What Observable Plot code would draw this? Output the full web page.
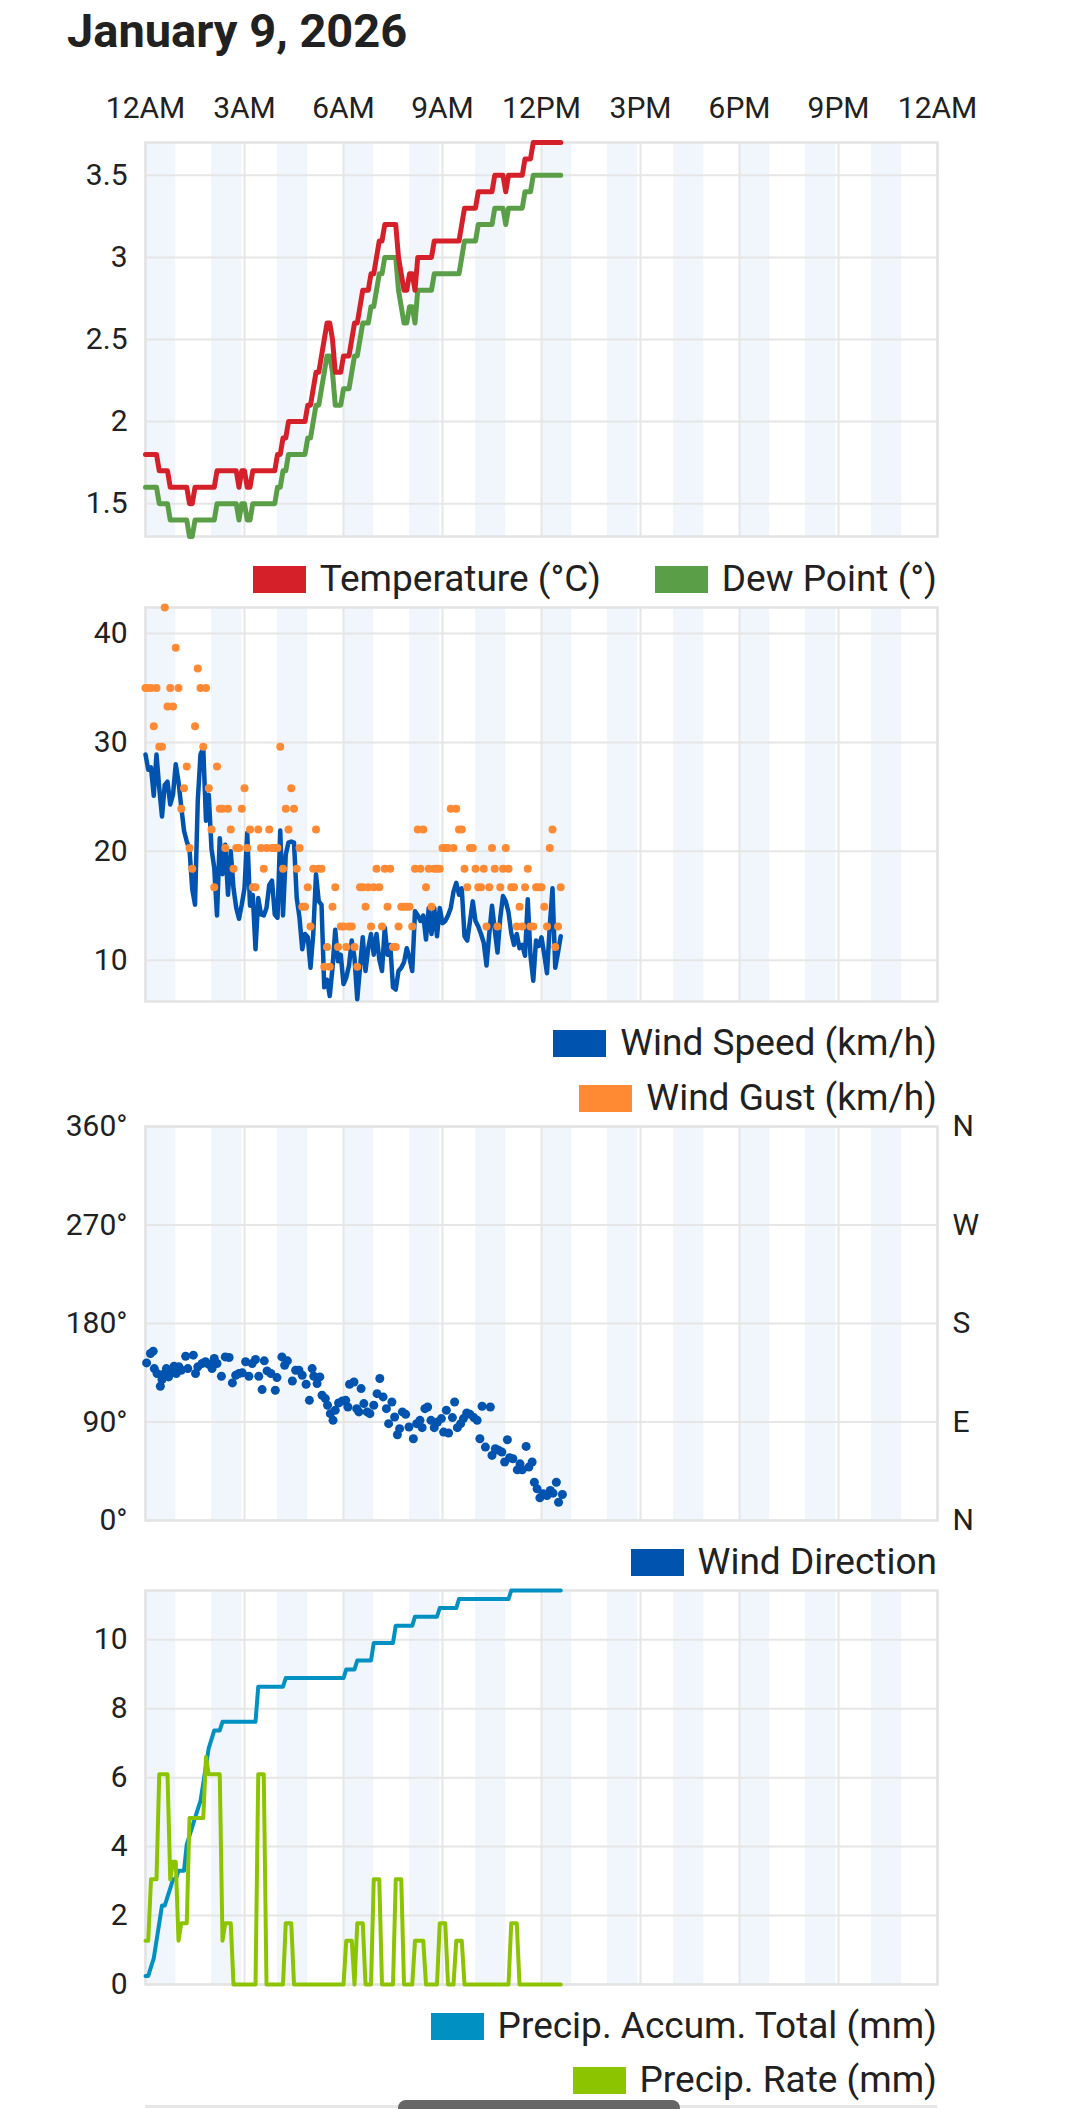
<!DOCTYPE html>
<html><head><meta charset="utf-8">
<script src="https://cdn.jsdelivr.net/npm/d3@7"></script>
<script src="https://cdn.jsdelivr.net/npm/@observablehq/plot@0.6"></script>
<style>
html,body{margin:0;padding:0;background:#fff;}
#page{position:relative;width:1080px;height:2109px;overflow:hidden;font-family:Roboto,sans-serif;color:#212121;}
.title{position:absolute;left:67px;top:7px;font-size:47px;font-weight:700;line-height:47px;white-space:nowrap;}
.legend{position:absolute;right:143px;display:flex;align-items:center;height:44px;line-height:44px;font-size:37px;white-space:nowrap;}
.item{display:flex;align-items:center;}
.item + .item{margin-left:54px;}
.sw{width:53px;height:27px;margin-right:14px;}
.scroll{position:absolute;left:398px;top:2100px;width:282px;height:16px;border-radius:8px;background:#666;}
.nextline{position:absolute;left:145px;top:2105px;width:792px;height:3px;background:#e6e6e6;}
</style></head>
<body><div id="page"></div>
<script>
// ---------- data (5-minute samples starting 12:00 AM) ----------
const stepMinutes = 5;
const xTicks = [0, 3, 6, 9, 12, 15, 18, 21, 24];
const xTickLabels = ["12AM", "3AM", "6AM", "9AM", "12PM", "3PM", "6PM", "9PM", "12AM"];
const stripeStarts = [0, 2, 4, 6, 8, 10, 12, 14, 16, 18, 20, 22];

const temperature = [1.8,1.8,1.8,1.8,1.8, 1.7,1.7,1.7,1.7, 1.6,1.6,1.6,1.6,1.6,1.6,1.6, 1.5,1.5,
  1.6,1.6,1.6,1.6,1.6,1.6,1.6,1.6, 1.7,1.7,1.7,1.7,1.7,1.7,1.7,1.7, 1.6, 1.7,1.7, 1.6,1.6,
  1.7,1.7,1.7,1.7,1.7,1.7,1.7,1.7,1.7, 1.8,1.8, 1.9,1.9, 2.0,2.0,2.0,2.0,2.0,2.0,2.0, 2.1,2.1,
  2.2, 2.3,2.3, 2.4, 2.5, 2.6,2.6, 2.5, 2.3,2.3,2.3, 2.4,2.4,2.4, 2.5, 2.6,2.6, 2.7, 2.8,2.8,2.8,
  2.9,2.9, 3.0, 3.1,3.1, 3.2,3.2,3.2,3.2,3.2, 3.0, 2.9, 2.8,2.8, 2.9,2.9, 2.8, 3.0,3.0,3.0,3.0,3.0,3.0,
  3.1,3.1,3.1,3.1,3.1,3.1,3.1,3.1,3.1,3.1, 3.2, 3.3,3.3,3.3,3.3,3.3, 3.4,3.4,3.4,3.4,3.4,3.4,
  3.5,3.5,3.5,3.5, 3.4, 3.5,3.5,3.5,3.5,3.5,3.5, 3.6,3.6,3.6, 3.7,3.7,3.7,3.7,3.7,3.7,3.7,3.7,3.7,3.7,3.7];

const dewPoint = [1.6,1.6,1.6,1.6,1.6, 1.5,1.5,1.5,1.5, 1.4,1.4,1.4,1.4,1.4,1.4,1.4, 1.3,1.3,
  1.4,1.4,1.4,1.4,1.4,1.4,1.4,1.4, 1.5,1.5,1.5,1.5,1.5,1.5,1.5,1.5, 1.4, 1.5,1.5, 1.4,1.4,
  1.5,1.5,1.5,1.5,1.5,1.5,1.5,1.5,1.5, 1.6,1.6, 1.7,1.7, 1.8,1.8,1.8,1.8,1.8,1.8,1.8, 1.9,1.9,
  2.0, 2.1,2.1, 2.2, 2.3, 2.4,2.4, 2.3, 2.1,2.1,2.1, 2.2,2.2,2.2, 2.3, 2.4,2.4, 2.5, 2.6,2.6,2.6,
  2.7,2.7, 2.8, 2.9,2.9, 3.0,3.0,3.0,3.0,3.0, 2.8, 2.7, 2.6,2.6, 2.7,2.7, 2.6, 2.8,2.8,2.8,2.8,2.8,2.8,
  2.9,2.9,2.9,2.9,2.9,2.9,2.9,2.9,2.9,2.9, 3.0, 3.1,3.1,3.1,3.1,3.1, 3.2,3.2,3.2,3.2,3.2,3.2,
  3.3,3.3,3.3,3.3, 3.2, 3.3,3.3,3.3,3.3,3.3,3.3, 3.4,3.4,3.4, 3.5,3.5,3.5,3.5,3.5,3.5,3.5,3.5,3.5,3.5,3.5];

const windSpeed = [28.9,27.5,27.7,25.1,28.9,25.8,23.2,26.1,26.4,24.3,
  25.2,28.0,26.4,24.1,21.9,20.9,20.2,16.5,15.1,24.6,
  28.9,29.5,22.8,25.2,20.2,18.5,14.1,21.2,17.9,20.6,
  16.0,20.0,16.6,14.8,13.8,15.1,16.6,21.7,15.0,16.0,
  11.0,15.7,14.2,14.1,14.8,16.9,17.3,14.2,13.9,21.9,
  14.1,19.7,20.8,20.9,20.8,15.7,13.9,11.0,12.4,12.1,
  9.3,12.4,17.9,15.4,15.1,7.5,8.2,6.7,9.3,12.8,
  9.9,10.5,7.8,8.4,9.5,11.8,10.2,6.4,9.3,12.1,
  9.0,11.1,12.4,10.5,12.4,10.1,9.0,13.0,10.5,11.4,
  7.5,7.3,9.0,9.3,9.8,11.1,10.2,9.0,14.5,14.1,
  13.6,14.1,11.9,14.8,12.4,14.8,12.2,14.8,13.4,13.6,
  14.1,14.8,16.3,17.1,16.0,16.6,12.2,11.8,13.6,15.4,
  13.6,13.1,12.4,11.6,9.5,12.4,15.0,12.8,10.7,13.9,
  15.9,15.4,14.4,12.5,11.4,12.4,11.1,11.4,10.4,15.6,
  10.4,8.1,11.8,11.3,12.1,10.5,8.8,13.1,16.6,9.3,
  10.7,12.2];

const windGust = [35.0,35.0,35.0,31.5,35.0,29.6,29.6,42.4,33.3,35.0,
  33.3,38.7,35.0,23.9,25.8,27.8,20.3,18.4,31.5,36.8,
  35.0,29.6,35.0,25.8,22.0,16.7,27.8,23.9,23.9,20.3,
  23.9,22.0,18.4,20.3,20.3,23.9,25.8,20.3,22.0,16.7,
  16.7,22.0,20.3,18.4,20.3,22.0,20.3,20.3,20.3,29.6,
  18.4,23.9,22.0,25.8,23.9,18.4,20.3,14.9,14.9,16.7,
  13.1,18.4,22.0,18.4,18.4,9.4,11.2,9.4,14.9,16.7,
  11.2,13.1,13.1,11.2,13.1,13.1,11.2,9.4,16.7,16.7,
  14.9,16.7,13.1,16.7,18.4,16.7,13.1,18.4,14.9,18.4,
  11.2,11.2,13.1,14.9,14.9,14.9,14.9,13.1,18.4,22.0,
  18.4,22.0,16.7,18.4,14.9,18.4,18.4,18.4,20.3,20.3,
  20.3,23.9,20.3,23.9,22.0,22.0,18.4,16.7,20.3,20.3,
  18.4,16.7,16.7,18.4,13.1,16.7,20.3,18.4,13.1,16.7,
  18.4,20.3,18.4,16.7,16.7,13.1,14.9,13.1,16.7,18.4,
  13.1,13.1,16.7,16.7,16.7,14.9,13.1,20.3,22.0,11.2,
  13.1,16.7];

const dirMinutes = [2,9,14,16,21,27,30,35,38,42, 47,52,56,61,65,73,77,87,91,95,
  103,109,115,121,125,130,138,145,152,158, 164,170,176,182,188,194,200,206,212,216,
  221,228,236,239,248,253,258,267,273,279, 285,292,298,303,306,312,317,321,327,331,
  336,341,345,351,358,364,368,371,379,384, 388,392,397,403,408,415,421,426,432,438,
  442,448,453,458,462,467,473,479,487,493, 499,503,508,513,519,525,531,538,542,547,
  551,558,562,567,573,578,584,590,597,603, 608,612,618,627,630,636,642,648,653,658,
  662,668,676,681,685,692,697,703,707,712, 717,723,730,736,741,747,751,758];
const windDirection = [144.0,152.6,154.7,138.8,134.3,122.7,128.8,134.3,138.8,131.2,
  135.8,141.0,134.3,140.4,137.3,150.1,138.8,151.1,134.3,140.4,
  143.4,145.0,142.8,138.8,148.0,143.4,131.8,149.5,148.9,125.7,
  132.7,134.3,134.9,145.0,131.8,143.4,147.1,131.8,119.6,145.9,
  136.7,134.3,119.0,130.6,149.5,141.9,145.9,127.5,137.3,137.3,
  132.7,124.5,109.8,138.8,131.8,125.1,131.2,114.4,111.4,105.3,
  97.6,91.5,100.7,107.4,109.2,109.8,103.7,124.5,126.6,102.2,
  99.2,120.5,106.8,99.2,97.6,105.3,115.9,129.7,112.9,102.2,
  88.5,108.3,94.6,78.4,83.9,99.2,97.0,85.4,74.7,88.5,
  91.5,84.8,102.2,103.7,91.5,84.8,90.0,93.1,80.8,100.7,
  79.9,94.0,108.3,84.8,88.5,93.1,98.2,97.0,94.0,91.5,
  74.7,104.4,67.1,103.7,59.5,65.6,64.1,62.5,53.4,73.8,
  57.3,56.4,46.3,51.8,46.3,67.7,48.8,53.4,35.0,28.9,
  20.7,24.4,22.8,27.4,25.0,35.0,16.7,23.8];

const precipAccum = [0.25,0.25,0.51,0.76,1.27,1.78,2.29,2.29,2.54,2.79,
  3.05,3.05,3.30,3.30,3.30,4.06,4.32,4.57,4.83,5.08,
  5.33,5.84,6.35,6.86,7.11,7.37,7.37,7.37,
  7.62,7.62,7.62,7.62,7.62,7.62,7.62,7.62,7.62,7.62,7.62,7.62,7.62,
  8.64,8.64,8.64,8.64,8.64,8.64,8.64,8.64,8.64,8.64,
  8.89,8.89,8.89,8.89,8.89,8.89,8.89,8.89,8.89,8.89,8.89,8.89,8.89,8.89,8.89,8.89,8.89,8.89,8.89,8.89,8.89,8.89,
  9.14,9.14,9.14,9.14,
  9.40,9.40,9.40,9.40,9.40,9.40,
  9.91,9.91,9.91,9.91,9.91,9.91,9.91,9.91,
  10.41,10.41,10.41,10.41,10.41,10.41,10.41,
  10.67,10.67,10.67,10.67,10.67,10.67,10.67,10.67,10.67,
  10.92,10.92,10.92,10.92,10.92,10.92,10.92,
  11.18,11.18,11.18,11.18,11.18,11.18,11.18,11.18,11.18,11.18,11.18,11.18,11.18,11.18,11.18,11.18,11.18,11.18,11.18,
  11.43,11.43,11.43,11.43,11.43,11.43,11.43,11.43,11.43,11.43,11.43,11.43,11.43,11.43,11.43,11.43,11.43,11.43,11.43];

const precipRate = [1.27,1.27,3.05,3.05,3.05,6.1,6.1,6.1,6.1,3.05,
  3.56,3.56,1.27,1.78,1.78,1.78,4.83,4.83,4.83,4.83,
  4.83,4.83,6.6,6.1,6.1,6.1,6.1,6.1,1.27,1.78,
  1.78,1.78,0,0,0,0,0,0,0,0,
  0,6.1,6.1,6.1,0,0,0,0,0,0,
  0,1.78,1.78,1.78,0,0,0,0,0,0,
  0,0,0,0,0,0,0,0,0,0,
  0,0,0,1.27,1.27,1.27,0,1.78,1.78,1.78,
  0,0,0,3.05,3.05,3.05,0,0,0,0,
  0,3.05,3.05,3.05,0,0,0,0,1.27,1.27,
  1.27,1.27,0,0,0,0,0,1.78,1.78,1.78,
  0,0,0,1.27,1.27,1.27,0,0,0,0,
  0,0,0,0,0,0,0,0,0,0,
  0,0,0,1.78,1.78,1.78,0,0,0,0,
  0,0,0,0,0,0,0,0,0,0,
  0,0];

const tempTicks = [1.5, 2, 2.5, 3, 3.5];
const windTicks = [10, 20, 30, 40];
const dirTicks = [0, 90, 180, 270, 360];
const dirTickLabels = ["0°", "90°", "180°", "270°", "360°"];
const compassLabels = ["N", "E", "S", "W", "N"];
const precipTicks = [0, 2, 4, 6, 8, 10];

// ---------- colours ----------
const C = {
  stripe: "#f0f6fb", grid: "#e6e6e6", frame: "#e3e3e3",
  temp: "#d62029", dew: "#5a9f47", speed: "#0053ae", gust: "#ff8a33",
  dir: "#0053ae", accum: "#0090c1", rate: "#8cc500"
};

// ---------- records ----------
const samples = temperature.map((t, i) => ({
  h: i * stepMinutes / 60, temp: t, dew: dewPoint[i], speed: windSpeed[i], gust: windGust[i],
  accum: precipAccum[i], rate: precipRate[i]
}));
const dirRecords = dirMinutes.map((m, i) => ({h: m / 60, dir: windDirection[i]}));

const page = document.getElementById("page");

function addTitle(text) {
  const d = document.createElement("div");
  d.className = "title"; d.textContent = text; page.appendChild(d);
}

function addLegend(items, centerY) {
  const row = document.createElement("div");
  row.className = "legend";
  row.style.top = (centerY - 22) + "px";
  for (const [label, color] of items) {
    const it = document.createElement("div"); it.className = "item";
    const sw = document.createElement("div"); sw.className = "sw"; sw.style.background = color;
    const tx = document.createElement("span"); tx.textContent = label;
    it.appendChild(sw); it.appendChild(tx); row.appendChild(it);
  }
  page.appendChild(row);
}

function addPanel({top, marginTop = 20, yDomain, yTicks, yFmt, marks, topAxis = false, rightFmt = null}) {
  const plotH = 394, marginBottom = 14;
  const p = Plot.plot({
    width: 1080, height: marginTop + plotH + marginBottom,
    marginTop, marginBottom, marginLeft: 145, marginRight: 143,
    style: {fontFamily: "Roboto", fontSize: "30px", color: "#212121", background: "transparent", overflow: "visible"},
    x: {domain: [0, 24], axis: null},
    y: {domain: yDomain, axis: null},
    marks: [
      Plot.rect(stripeStarts, {x1: d => d, x2: d => d + 0.92, fill: C.stripe}),
      Plot.ruleX(xTicks, {stroke: C.grid, strokeWidth: 2}),
      Plot.ruleY(yTicks, {stroke: C.grid, strokeWidth: 2}),
      Plot.frame({stroke: C.frame, strokeWidth: 2.5}),
      topAxis ? Plot.axisX({anchor: "top", ticks: xTicks, tickFormat: d => xTickLabels[xTicks.indexOf(d)],
        tickSize: 0, tickPadding: 25, label: null, fontSize: 30}) : null,
      Plot.axisY({anchor: "left", ticks: yTicks, tickFormat: yFmt, tickSize: 0, tickPadding: 18, label: null, fontSize: 30}),
      rightFmt ? Plot.axisY({anchor: "right", ticks: yTicks, tickFormat: rightFmt, tickSize: 0, tickPadding: 15, label: null, fontSize: 30}) : null,
      ...marks
    ]
  });
  p.style.position = "absolute";
  p.style.left = "0px";
  p.style.top = (top - marginTop) + "px";
  page.appendChild(p);
}

addTitle("January 9, 2026");

// Panel 1: temperature / dew point
addPanel({
  top: 142, marginTop: 70, topAxis: true,
  yDomain: [1.3, 3.7], yTicks: tempTicks, yFmt: d => String(d),
  marks: [
    Plot.line(samples, {x: "h", y: "dew", stroke: C.dew, strokeWidth: 5}),
    Plot.line(samples, {x: "h", y: "temp", stroke: C.temp, strokeWidth: 5})
  ]
});
addLegend([["Temperature (°C)", C.temp], ["Dew Point (°)", C.dew]], 579);

// Panel 2: wind speed / gust
addPanel({
  top: 607, yDomain: [6.2, 42.4], yTicks: windTicks, yFmt: d => String(d),
  marks: [
    Plot.line(samples, {x: "h", y: "speed", stroke: C.speed, strokeWidth: 4.5}),
    Plot.dot(samples, {x: "h", y: "gust", r: 4, fill: C.gust, stroke: null})
  ]
});
addLegend([["Wind Speed (km/h)", C.speed]], 1043);
addLegend([["Wind Gust (km/h)", C.gust]], 1098);

// Panel 3: wind direction
addPanel({
  top: 1126, yDomain: [0, 360], yTicks: dirTicks,
  yFmt: d => dirTickLabels[dirTicks.indexOf(d)],
  rightFmt: d => compassLabels[dirTicks.indexOf(d)],
  marks: [
    Plot.dot(dirRecords, {x: "h", y: "dir", r: 4.5, fill: C.dir, stroke: null})
  ]
});
addLegend([["Wind Direction", C.dir]], 1562);

// Panel 4: precipitation
addPanel({
  top: 1590, yDomain: [0, 11.43], yTicks: precipTicks, yFmt: d => String(d),
  marks: [
    Plot.line(samples, {x: "h", y: "accum", stroke: C.accum, strokeWidth: 4}),
    Plot.line(samples, {x: "h", y: "rate", stroke: C.rate, strokeWidth: 4})
  ]
});
addLegend([["Precip. Accum. Total (mm)", C.accum]], 2026);
addLegend([["Precip. Rate (mm)", C.rate]], 2080);

const nl = document.createElement("div"); nl.className = "nextline"; page.appendChild(nl);
const sb = document.createElement("div"); sb.className = "scroll"; page.appendChild(sb);
</script>
</body></html>
